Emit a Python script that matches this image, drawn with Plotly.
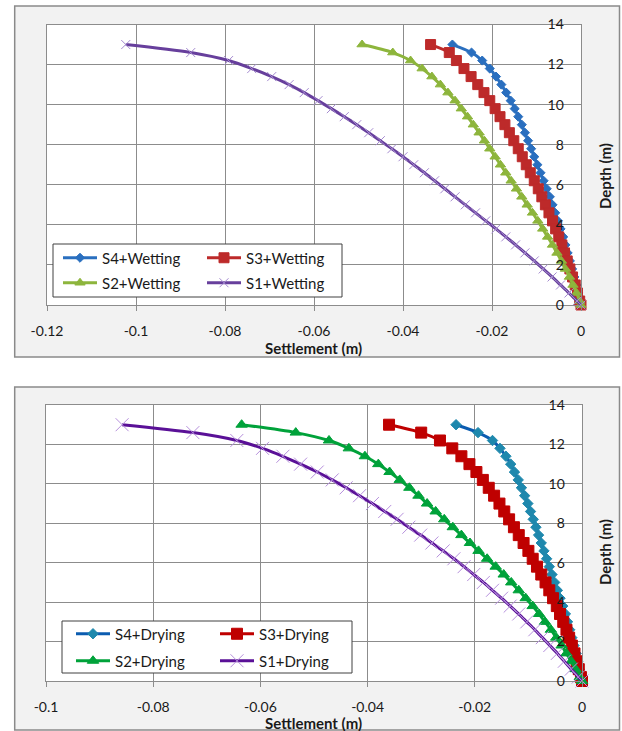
import plotly.graph_objects as go

W, H = 622, 731

# ---------------- data ----------------
depth = [13.0, 12.6, 12.2, 11.8, 11.4, 11.0, 10.6, 10.2, 9.8, 9.4, 9.0, 8.6, 8.2,
         7.8, 7.4, 7.0, 6.6, 6.2, 5.8, 5.4, 5.0, 4.6, 4.2, 3.8, 3.4, 3.0, 2.6,
         2.2, 1.8, 1.4, 1.0, 0.6, 0.2, 0.0]

wet_s4 = [-0.0289, -0.0246, -0.0222, -0.0205, -0.0191, -0.0179, -0.0168, -0.0158,
          -0.0149, -0.0141, -0.0133, -0.0126, -0.0119, -0.0112, -0.0105, -0.0098,
          -0.0091, -0.0084, -0.0077, -0.0070, -0.0064, -0.0058, -0.0052, -0.0046,
          -0.0040, -0.0035, -0.0030, -0.0025, -0.0020, -0.0015, -0.0010, -0.0006,
          -0.0002, 0.0]
wet_s3 = [-0.0338, -0.0296, -0.0280, -0.0263, -0.0247, -0.0232, -0.0218, -0.0205,
          -0.0193, -0.0182, -0.0171, -0.0161, -0.0151, -0.0141, -0.0132, -0.0123,
          -0.0114, -0.0105, -0.0096, -0.0088, -0.0080, -0.0072, -0.0064, -0.0057,
          -0.0050, -0.0043, -0.0037, -0.0031, -0.0025, -0.0019, -0.0013, -0.0008,
          -0.0003, 0.0]
wet_s2 = [-0.0492, -0.0423, -0.0383, -0.0357, -0.0335, -0.0316, -0.0299, -0.0283,
          -0.0269, -0.0255, -0.0242, -0.0229, -0.0217, -0.0205, -0.0193, -0.0181,
          -0.0169, -0.0157, -0.0145, -0.0133, -0.0121, -0.0109, -0.0097, -0.0086,
          -0.0075, -0.0064, -0.0054, -0.0044, -0.0035, -0.0026, -0.0018, -0.0010,
          -0.0003, 0.0]
wet_s1 = [-0.1023, -0.0877, -0.0792, -0.0740, -0.0695, -0.0656, -0.0622, -0.0591,
          -0.0561, -0.0532, -0.0504, -0.0477, -0.0451, -0.0425, -0.0400, -0.0376,
          -0.0352, -0.0329, -0.0306, -0.0283, -0.0260, -0.0237, -0.0214, -0.0191,
          -0.0169, -0.0147, -0.0126, -0.0105, -0.0085, -0.0065, -0.0046, -0.0027,
          -0.0009, 0.0]

dry_s4 = [-0.0235, -0.0194, -0.0167, -0.0153, -0.0142, -0.0133, -0.0126, -0.0119,
          -0.0113, -0.0107, -0.0101, -0.0096, -0.0091, -0.0086, -0.0081, -0.0076,
          -0.0071, -0.0066, -0.0061, -0.0056, -0.0051, -0.0046, -0.0041, -0.0036,
          -0.0031, -0.0027, -0.0023, -0.0019, -0.0015, -0.0011, -0.0008, -0.0005,
          -0.0002, 0.0]
dry_s3 = [-0.0360, -0.0300, -0.0265, -0.0242, -0.0225, -0.0210, -0.0197, -0.0185,
          -0.0174, -0.0164, -0.0154, -0.0145, -0.0136, -0.0127, -0.0118, -0.0109,
          -0.0100, -0.0092, -0.0084, -0.0076, -0.0068, -0.0061, -0.0054, -0.0047,
          -0.0041, -0.0035, -0.0029, -0.0024, -0.0019, -0.0014, -0.0010, -0.0006,
          -0.0002, 0.0]
dry_s2 = [-0.0635, -0.0534, -0.0472, -0.0435, -0.0405, -0.0380, -0.0359, -0.0340,
          -0.0322, -0.0305, -0.0289, -0.0273, -0.0257, -0.0241, -0.0225, -0.0209,
          -0.0193, -0.0177, -0.0161, -0.0146, -0.0132, -0.0118, -0.0105, -0.0092,
          -0.0080, -0.0069, -0.0058, -0.0048, -0.0038, -0.0029, -0.0020, -0.0012,
          -0.0004, 0.0]
dry_s1 = [-0.0858, -0.0726, -0.0644, -0.0596, -0.0558, -0.0525, -0.0494, -0.0466,
          -0.0440, -0.0415, -0.0391, -0.0368, -0.0345, -0.0323, -0.0301, -0.0280,
          -0.0259, -0.0239, -0.0220, -0.0202, -0.0184, -0.0167, -0.0150, -0.0134,
          -0.0118, -0.0103, -0.0088, -0.0074, -0.0060, -0.0046, -0.0033, -0.0020,
          -0.0007, 0.0]

names_wet = ["S4+Wetting", "S3+Wetting", "S2+Wetting", "S1+Wetting"]
names_dry = ["S4+Drying", "S3+Drying", "S2+Drying", "S1+Drying"]

x_top_vals = [-0.12, -0.1, -0.08, -0.06, -0.04, -0.02, 0]
x_top_text = ["-0.12", "-0.1", "-0.08", "-0.06", "-0.04", "-0.02", "0"]
x_bot_vals = [-0.1, -0.08, -0.06, -0.04, -0.02, 0]
x_bot_text = ["-0.1", "-0.08", "-0.06", "-0.04", "-0.02", "0"]
y_vals = [0, 2, 4, 6, 8, 10, 12, 14]
y_text = ["0", "2", "4", "6", "8", "10", "12", "14"]

x_title = "Settlement (m)"
y_title = "Depth (m)"

# ---------------- helpers (layout only) ----------------
def fx(p):
    return p / W


def fy(p):
    return 1 - p / H


FONT = "Lato, 'Open Sans', sans-serif"
GRID = "#8c8c8c"
TXT = "#1a1a1a"

fig = go.Figure()


def add(x, name, color, symbol, size, xa, ya, legend, mcolor=None, lw=3):
    mcolor = mcolor or color
    marker = dict(symbol=symbol, size=size, color=mcolor,
                  line=dict(color=mcolor, width=1))
    fig.add_trace(go.Scatter(
        x=x, y=depth, name=name, mode="lines+markers",
        line=dict(color=color, width=lw, shape="spline", smoothing=0.8),
        marker=marker, xaxis=xa, yaxis=ya, legend=legend, cliponaxis=False))


# top (wetting)
add(wet_s4, names_wet[0], "#2a6fbf", "diamond", 7, "x", "y", "legend")
add(wet_s3, names_wet[1], "#bd2a2a", "square", 10, "x", "y", "legend")
add(wet_s2, names_wet[2], "#8db53c", "triangle-up", 9, "x", "y", "legend2")
add(wet_s1, names_wet[3], "#673f9c", "x-thin", 9, "x", "y", "legend2", mcolor="#a58bd0")
# bottom (drying)
add(dry_s4, names_dry[0], "#0b5cb0", "diamond", 8, "x2", "y2", "legend3", mcolor="#1e88ad")
add(dry_s3, names_dry[1], "#bf0000", "square", 11, "x2", "y2", "legend3")
add(dry_s2, names_dry[2], "#00a23a", "triangle-up", 10, "x2", "y2", "legend4")
add(dry_s1, names_dry[3], "#5a1097", "x-thin", 13, "x2", "y2", "legend4", mcolor="#b690dc")

tickfont = dict(family=FONT, size=14, color=TXT)
titlefont = dict(family=FONT, size=15, color=TXT, weight="bold")


def xaxis(domain, rng, vals, text, anchor):
    return dict(domain=domain, range=rng, tickvals=vals, ticktext=text, anchor=anchor,
                automargin=False,
                showgrid=True, gridcolor=GRID, gridwidth=1, zeroline=False,
                showline=True, linecolor=GRID, linewidth=1, mirror=True,
                ticks="outside", ticklen=5, tickcolor=GRID, tickfont=tickfont,
                ticklabelstandoff=8, ticklabeloverflow="allow")


def yaxis(domain, anchor):
    return dict(domain=domain, range=[0, 14], tickvals=y_vals, ticktext=y_text,
                anchor=anchor, side="right", ticklabelposition="inside",
                ticklabeloverflow="allow", automargin=False,
                showgrid=True, gridcolor=GRID, gridwidth=1, zeroline=False,
                showline=True, linecolor=GRID, linewidth=1, mirror=True,
                ticks="", tickfont=tickfont, ticklabelstandoff=17)


# plot-area pixel boxes
TOP = dict(x0=47, x1=581, y0=24.5, y1=305)
BOT = dict(x0=46, x1=582, y0=405, y1=681)

shapes = []
for fr in [(14.7, 6, 619.5, 357), (14.7, 387, 619.5, 730)]:
    shapes.append(dict(type="rect", xref="paper", yref="paper", layer="below",
                       x0=fx(fr[0]), x1=fx(fr[2]), y0=fy(fr[1]), y1=fy(fr[3]),
                       fillcolor="#f2f2f2", line=dict(color="#8a8a8a", width=1.5)))
for b in (TOP, BOT):
    shapes.append(dict(type="rect", xref="paper", yref="paper", layer="below",
                       x0=fx(b["x0"]), x1=fx(b["x1"]), y0=fy(b["y0"]), y1=fy(b["y1"]),
                       fillcolor="white", line=dict(width=0)))
for lb in [(53, 244, 342, 297), (62, 621, 352, 673)]:
    shapes.append(dict(type="rect", xref="paper", yref="paper", layer="above",
                       x0=fx(lb[0]), x1=fx(lb[2]), y0=fy(lb[1]), y1=fy(lb[3]),
                       fillcolor="white", line=dict(color="#404040", width=1)))

annotations = []
for (cx, cy) in [(313.5, 348), (313.5, 723)]:
    annotations.append(dict(text=x_title, xref="paper", yref="paper",
                            x=fx(cx), y=fy(cy), xanchor="center", yanchor="middle",
                            showarrow=False, font=titlefont))
for (cx, cy) in [(605, 176), (605, 552)]:
    annotations.append(dict(text=y_title, xref="paper", yref="paper",
                            x=fx(cx), y=fy(cy), xanchor="center", yanchor="middle",
                            textangle=-90, showarrow=False, font=titlefont))


def legend(xpx, ypx):
    return dict(x=fx(xpx), y=fy(ypx), xanchor="left", yanchor="middle",
                orientation="h", bgcolor="rgba(0,0,0,0)", borderwidth=0,
                font=dict(family=FONT, size=15, color=TXT),
                entrywidth=95, entrywidthmode="pixels", itemwidth=34,
                traceorder="normal", xref="paper", yref="paper")


fig.update_layout(
    width=W, height=H, autosize=False,
    margin=dict(l=0, r=0, t=0, b=0, autoexpand=False),
    paper_bgcolor="white", plot_bgcolor="white",
    showlegend=True,
    xaxis=xaxis([fx(TOP["x0"]), fx(TOP["x1"])], [-0.12, 0], x_top_vals, x_top_text, "y"),
    yaxis=yaxis([fy(TOP["y1"]), fy(TOP["y0"])], "x"),
    xaxis2=xaxis([fx(BOT["x0"]), fx(BOT["x1"])], [-0.1, 0], x_bot_vals, x_bot_text, "y2"),
    yaxis2=yaxis([fy(BOT["y1"]), fy(BOT["y0"])], "x2"),
    legend=legend(58, 258),
    legend2=legend(58, 283),
    legend3=legend(71, 634),
    legend4=legend(71, 661),
    shapes=shapes,
    annotations=annotations,
)

fig.write_html("out.html")
